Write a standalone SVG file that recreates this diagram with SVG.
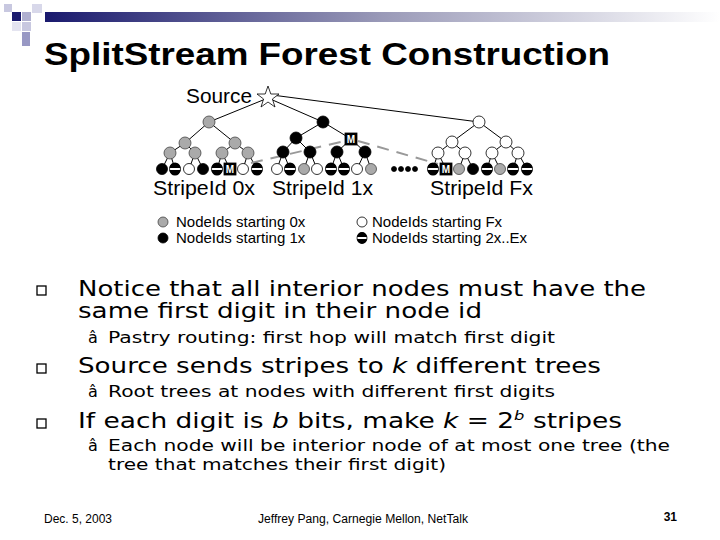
<svg xmlns="http://www.w3.org/2000/svg" width="720" height="540" viewBox="0 0 720 540">
<defs>
<linearGradient id="bar" x1="0" x2="1" y1="0" y2="0">
<stop offset="0" stop-color="#1a1a6e"/><stop offset="0.5" stop-color="#9a9ab8"/><stop offset="1" stop-color="#ffffff"/>
</linearGradient>
</defs>
<style>
.e{stroke:#000;stroke-width:1;fill:none}
.d{stroke:#999;stroke-width:2;stroke-dasharray:12,8;fill:none}
.g{fill:#aaa;stroke:#444;stroke-width:0.8}
.b{fill:#000;stroke:#000;stroke-width:0.8}
.w{fill:#fff;stroke:#000;stroke-width:0.8}
.mb{fill:#000;stroke:#000;stroke-width:0.8}
.mt{fill:#fff;font-family:"Liberation Sans",Arial,sans-serif;font-size:10px;font-weight:bold}
.fig{font-family:"Liberation Sans",Arial,sans-serif}
.body{font-family:"DejaVu Sans",Verdana,sans-serif}
</style>
<rect width="720" height="540" fill="#fff"/>
<g id="header">
<rect x="45" y="12" width="675" height="10" fill="url(#bar)"/>
<rect x="4" y="4" width="8" height="8" fill="#c8c8e0"/>
<rect x="12" y="12" width="9" height="9" fill="#1a1a6e"/>
<rect x="22" y="12" width="9" height="9" fill="#b0b0d0"/>
<rect x="32" y="4" width="10" height="9" fill="#d8d8ea"/>
<rect x="22" y="22" width="9" height="9" fill="#c8c8e0"/>
<rect x="12" y="22" width="9" height="9" fill="#e4e4f0"/>
<rect x="22" y="32" width="8" height="14" fill="#9898c4"/>
<text x="44" y="65" font-family="Liberation Sans,Arial,sans-serif" font-weight="bold" font-size="31" textLength="566" lengthAdjust="spacingAndGlyphs">SplitStream Forest Construction</text>
</g>
<g id="connectors">
<path class="e" d="M268,98 L209,122 M268,98 L323,122 M272,95 L479,122
M209,122 L185,143 M209,122 L235,143 M185,143 L170,153 M185,143 L195,153 M235,143 L222,153 M235,143 L248,153
M170,153 L162,169 M170,153 L175,169 M195,153 L189,169 M195,153 L203,169 M222,153 L217,169 M222,153 L230,169 M248,153 L243,169 M248,153 L257,169
M323,122 L296,138 M323,122 L351,139 M296,138 L283,152 M296,138 L310,152 M351,139 L337,152 M351,139 L365,152
M283,152 L277,169 M283,152 L290,169 M310,152 L304,169 M310,152 L317,169 M337,152 L331,169 M337,152 L344,169 M365,152 L357,169 M365,152 L371,169
M479,122 L452,142 M479,122 L506,142 M452,142 L438,153 M452,142 L465,153 M506,142 L492,153 M506,142 L518,153
M438,153 L433,169 M438,153 L446,169 M465,153 L459,169 M465,153 L473,169 M492,153 L487,169 M492,153 L500,169 M518,153 L513,169 M518,153 L527,169"/>
<path class="d" d="M251,163 L345,141 M358,141 L438,164"/>
</g>
<g id="nodes">
<polygon points="268,86 270.8,94 279,94 272.4,99 275,107 268,102 261,107 263.6,99 257,94 265.2,94" fill="#fff" stroke="#000" stroke-width="0.8"/>
<circle class="g" cx="209" cy="122" r="6"/><circle class="b" cx="323" cy="122" r="6"/><circle class="w" cx="479" cy="122" r="6"/>
<circle class="g" cx="185" cy="143" r="6"/><circle class="g" cx="235" cy="143" r="6"/>
<circle class="b" cx="296" cy="138" r="6"/>
<circle class="w" cx="452" cy="142" r="6"/><circle class="w" cx="506" cy="142" r="6"/>
<circle class="g" cx="170" cy="153" r="6"/><circle class="g" cx="195" cy="153" r="6"/><circle class="g" cx="222" cy="153" r="6"/><circle class="g" cx="248" cy="153" r="6"/>
<circle class="b" cx="283" cy="152" r="6"/><circle class="b" cx="310" cy="152" r="6"/><circle class="b" cx="337" cy="152" r="6"/><circle class="b" cx="365" cy="152" r="6"/>
<circle class="w" cx="438" cy="153" r="6"/><circle class="w" cx="465" cy="153" r="6"/><circle class="w" cx="492" cy="153" r="6"/><circle class="w" cx="518" cy="153" r="6"/>
<g id="leaves">
<circle class="b" cx="162" cy="169" r="5.5"/>
<g><circle class="w" cx="175" cy="169" r="5.5"/><path d="M169.5,168 a5.5,5.5 0 0 1 11,0 z M169.5,170 a5.5,5.5 0 0 0 11,0 z" fill="#000"/></g>
<circle class="w" cx="189" cy="169" r="5.5"/>
<circle class="b" cx="203" cy="169" r="5.5"/>
<g><circle class="w" cx="217" cy="169" r="5.5"/><path d="M211.5,168 a5.5,5.5 0 0 1 11,0 z M211.5,170 a5.5,5.5 0 0 0 11,0 z" fill="#000"/></g>
<circle class="w" cx="243" cy="169" r="5.5"/>
<g><circle class="w" cx="257" cy="169" r="5.5"/><path d="M251.5,168 a5.5,5.5 0 0 1 11,0 z M251.5,170 a5.5,5.5 0 0 0 11,0 z" fill="#000"/></g>
<circle class="w" cx="277" cy="169" r="5.5"/>
<g><circle class="w" cx="290" cy="169" r="5.5"/><path d="M284.5,168 a5.5,5.5 0 0 1 11,0 z M284.5,170 a5.5,5.5 0 0 0 11,0 z" fill="#000"/></g>
<circle class="g" cx="304" cy="169" r="5.5"/>
<circle class="w" cx="317" cy="169" r="5.5"/>
<g><circle class="w" cx="331" cy="169" r="5.5"/><path d="M325.5,168 a5.5,5.5 0 0 1 11,0 z M325.5,170 a5.5,5.5 0 0 0 11,0 z" fill="#000"/></g>
<g><circle class="w" cx="344" cy="169" r="5.5"/><path d="M338.5,168 a5.5,5.5 0 0 1 11,0 z M338.5,170 a5.5,5.5 0 0 0 11,0 z" fill="#000"/></g>
<circle class="w" cx="357" cy="169" r="5.5"/>
<circle class="g" cx="371" cy="169" r="5.5"/>
<circle class="b" cx="394" cy="169" r="2.5"/><circle class="b" cx="401" cy="169" r="2.5"/><circle class="b" cx="408" cy="169" r="2.5"/><circle class="b" cx="415" cy="169" r="2.5"/>
<g><circle class="w" cx="433" cy="169" r="5.5"/><path d="M427.5,168 a5.5,5.5 0 0 1 11,0 z M427.5,170 a5.5,5.5 0 0 0 11,0 z" fill="#000"/></g>
<circle class="g" cx="459" cy="169" r="5.5"/>
<circle class="b" cx="473" cy="169" r="5.5"/>
<g><circle class="w" cx="487" cy="169" r="5.5"/><path d="M481.5,168 a5.5,5.5 0 0 1 11,0 z M481.5,170 a5.5,5.5 0 0 0 11,0 z" fill="#000"/></g>
<circle class="g" cx="500" cy="169" r="5.5"/>
<g><circle class="w" cx="513" cy="169" r="5.5"/><path d="M507.5,168 a5.5,5.5 0 0 1 11,0 z M507.5,170 a5.5,5.5 0 0 0 11,0 z" fill="#000"/></g>
<g><circle class="w" cx="527" cy="169" r="5.5"/><path d="M521.5,168 a5.5,5.5 0 0 1 11,0 z M521.5,170 a5.5,5.5 0 0 0 11,0 z" fill="#000"/></g>
</g>
<g id="m-nodes" text-anchor="middle">
<rect class="mb" x="224" y="163" width="12" height="12"/><text class="mt" x="230" y="173">M</text>
<rect class="mb" x="345" y="133" width="12" height="12"/><text class="mt" x="351" y="143">M</text>
<rect class="mb" x="440" y="163" width="12" height="12"/><text class="mt" x="446" y="173">M</text>
</g>
</g>
<g id="labels" class="fig">
<text x="186" y="103" font-size="20" textLength="66" lengthAdjust="spacingAndGlyphs">Source</text>
<text x="153" y="195" font-size="21" textLength="102" lengthAdjust="spacingAndGlyphs">StripeId 0x</text>
<text x="272" y="195" font-size="21" textLength="101" lengthAdjust="spacingAndGlyphs">StripeId 1x</text>
<text x="430" y="195" font-size="21" textLength="103" lengthAdjust="spacingAndGlyphs">StripeId Fx</text>
<circle class="g" cx="163" cy="222" r="5"/><text x="176" y="227" font-size="15">NodeIds starting 0x</text>
<circle class="b" cx="163" cy="238" r="5"/><text x="176" y="243" font-size="15">NodeIds starting 1x</text>
<circle class="w" cx="362" cy="222" r="5"/><text x="372" y="227" font-size="15">NodeIds starting Fx</text>
<g><circle class="w" cx="362" cy="238" r="5"/><path d="M357,237 a5,5 0 0 1 10,0 z M357,239 a5,5 0 0 0 10,0 z" fill="#000"/></g>
<text x="372" y="243" font-size="15">NodeIds starting 2x..Ex</text>
</g>
<g id="bullets" class="body">
<g fill="none" stroke="#000" stroke-width="1.3">
<rect x="37" y="286" width="9" height="9"/><rect x="37" y="364" width="9" height="9"/><rect x="37" y="419" width="9" height="9"/>
</g>
<text x="78" y="296" font-size="21" textLength="568" lengthAdjust="spacingAndGlyphs">Notice that all interior nodes must have the</text>
<text x="78" y="318" font-size="21" textLength="404" lengthAdjust="spacingAndGlyphs">same first digit in their node id</text>
<text x="88" y="343" font-size="16">â</text>
<text x="108" y="343" font-size="16" textLength="447" lengthAdjust="spacingAndGlyphs">Pastry routing: first hop will match first digit</text>
<text x="78" y="373" font-size="21" textLength="523" lengthAdjust="spacingAndGlyphs">Source sends stripes to <tspan font-style="italic">k</tspan> different trees</text>
<text x="88" y="397" font-size="16">â</text>
<text x="108" y="397" font-size="16" textLength="447" lengthAdjust="spacingAndGlyphs">Root trees at nodes with different first digits</text>
<text x="78" y="428" font-size="21" textLength="544" lengthAdjust="spacingAndGlyphs">If each digit is <tspan font-style="italic">b</tspan> bits, make <tspan font-style="italic">k</tspan> = 2<tspan font-size="13" dy="-8" font-style="italic">b</tspan><tspan dy="8"> stripes</tspan></text>
<text x="88" y="451" font-size="16">â</text>
<text x="108" y="451" font-size="16" textLength="562" lengthAdjust="spacingAndGlyphs">Each node will be interior node of at most one tree (the</text>
<text x="108" y="470" font-size="16" textLength="338" lengthAdjust="spacingAndGlyphs">tree that matches their first digit)</text>
</g>
<g id="footer" class="fig" font-size="12">
<text x="44" y="523" textLength="68" lengthAdjust="spacingAndGlyphs">Dec. 5, 2003</text>
<text x="258" y="523" textLength="210" lengthAdjust="spacingAndGlyphs">Jeffrey Pang, Carnegie Mellon, NetTalk</text>
<text x="677" y="521" font-weight="bold" text-anchor="end">31</text>
</g>
</svg>
